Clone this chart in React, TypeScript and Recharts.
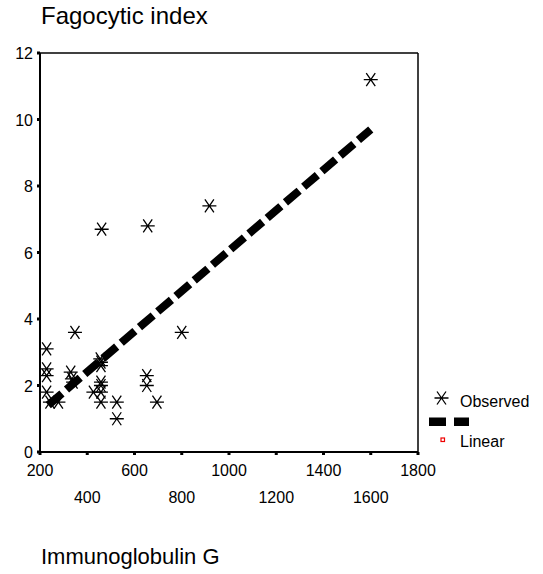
import React from 'react';
import { ComposedChart, Scatter, Line, XAxis, YAxis, ReferenceLine } from 'recharts';

const observedX = [228, 228, 228, 228, 242, 278, 330, 335, 340, 348, 426, 455, 458, 458, 458, 458, 458, 458, 461, 525, 525, 656, 652, 652, 695, 800, 917, 1600];
const observedY = [3.1, 2.5, 2.3, 1.8, 1.5, 1.5, 2.4, 2.2, 2.1, 3.6, 1.8, 2.8, 2.7, 2.6, 2.1, 2.0, 1.8, 1.5, 6.7, 1.5, 1.0, 6.8, 2.3, 2.0, 1.5, 3.6, 7.4, 11.2];
const fitX = [235, 1600];
const fitY = [1.41, 9.7];
const xTicks = [200, 400, 600, 800, 1000, 1200, 1400, 1600, 1800];
const yTicks = [0, 2, 4, 6, 8, 10, 12];

const observed = observedX.map((x, i) => ({ x, y: observedY[i] }));
const fitLine = fitX.map((x, i) => ({ x, y: fitY[i] }));

const FONT = 'Arial, "Liberation Sans", sans-serif';

const Star = (props: any) => {
  const { cx, cy } = props;
  if (cx == null || cy == null) return <g />;
  return (
    <path
      d={`M${cx - 7},${cy}H${cx + 7}M${cx - 4.5},${cy - 6.5}L${cx + 4.5},${cy + 6.5}M${cx - 4.5},${cy + 6.5}L${cx + 4.5},${cy - 6.5}`}
      stroke="#000"
      strokeWidth={1.3}
      fill="none"
    />
  );
};

const XTick = (props: any) => {
  const { x, y, payload, index } = props;
  const low = index % 2 === 1;
  return (
    <text x={x} y={y} dy={low ? 46 : 19} textAnchor="middle" fontFamily={FONT} fontSize={16} fill="#000">
      {payload.value}
    </text>
  );
};

const YTick = (props: any) => {
  const { x, y, payload } = props;
  return (
    <text x={x} y={y} dy={6} textAnchor="end" fontFamily={FONT} fontSize={16} fill="#000">
      {payload.value}
    </text>
  );
};

export default function App() {
  return (
    <div style={{ position: 'absolute', left: 0, top: 0, width: 543, height: 574, background: '#fff', fontFamily: FONT }}>
      <ComposedChart width={543} height={574} margin={{ top: 53, right: 125, bottom: 62, left: 0 }}>
        <XAxis
          dataKey="x"
          type="number"
          domain={[200, 1800]}
          ticks={xTicks}
          interval={0}
          allowDataOverflow
          height={60}
          axisLine={{ stroke: '#000', strokeWidth: 2 }}
          tickLine={{ stroke: '#000', strokeWidth: 3 }}
          tickSize={3}
          tick={<XTick />}
        />
        <YAxis
          dataKey="y"
          type="number"
          domain={[0, 12]}
          ticks={yTicks}
          interval={0}
          allowDataOverflow
          width={40}
          axisLine={{ stroke: '#000', strokeWidth: 2 }}
          tickLine={{ stroke: '#000', strokeWidth: 3 }}
          tickSize={3}
          tickMargin={4}
          tick={<YTick />}
        />
        <ReferenceLine y={12} stroke="#000" strokeWidth={1.5} />
        <ReferenceLine x={1800} stroke="#000" strokeWidth={1.5} />
        <Scatter data={observed} dataKey="y" shape={<Star />} isAnimationActive={false} />
        <Line data={fitLine} dataKey="y" type="linear" stroke="#000" strokeWidth={8} strokeDasharray="18 6" dot={false} activeDot={false} isAnimationActive={false} />
      </ComposedChart>
      <div style={{ position: 'absolute', left: 41, top: 1, fontSize: 24, color: '#000', lineHeight: '30px' }}>Fagocytic index</div>
      <div style={{ position: 'absolute', left: 41, top: 542, fontSize: 22, color: '#000', lineHeight: '30px' }}>Immunoglobulin G</div>
      <svg style={{ position: 'absolute', left: 420, top: 385 }} width={123} height={70}>
        <path d="M14.5,13H28.5M17,6.5L26,19.5M17,19.5L26,6.5" stroke="#000" strokeWidth={1.3} fill="none" />
        <text x={40} y={21.5} fontFamily={FONT} fontSize={16} fill="#000">Observed</text>
        <rect x={9} y={32.5} width={17} height={8.5} fill="#000" />
        <rect x={34} y={32.5} width={15} height={8.5} fill="#000" />
        <rect x={21} y={53} width={3.5} height={3.5} fill="#fff" stroke="#e00" strokeWidth={1.2} />
        <text x={40} y={62} fontFamily={FONT} fontSize={16} fill="#000">Linear</text>
      </svg>
    </div>
  );
}
